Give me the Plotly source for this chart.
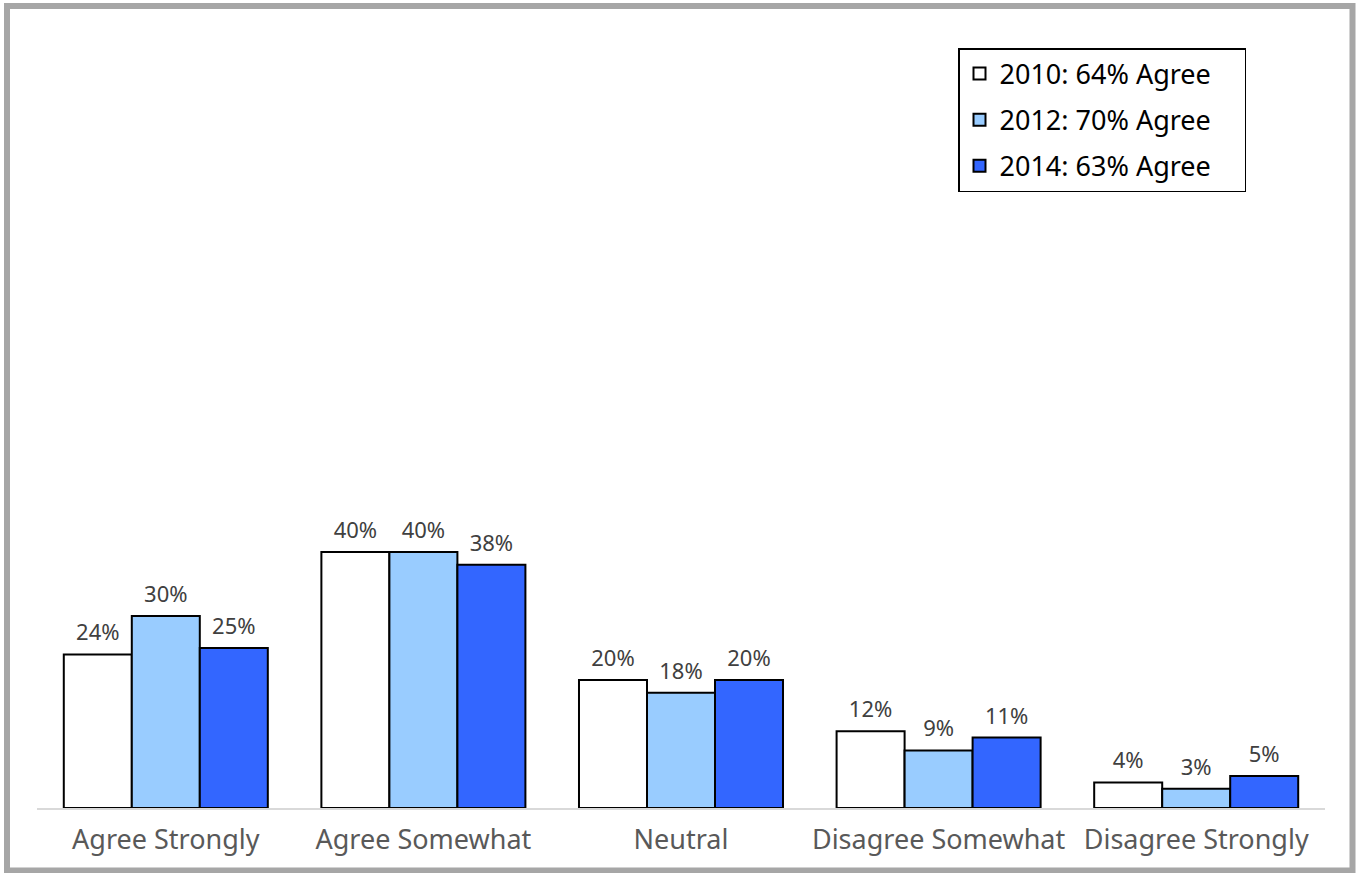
import plotly.graph_objects as go

# Survey responses by wave (percent of respondents)
categories = ["Agree Strongly", "Agree Somewhat", "Neutral", "Disagree Somewhat", "Disagree Strongly"]
series_names = ["2010: 64% Agree", "2012: 70% Agree", "2014: 63% Agree"]
values_2010 = [24, 40, 20, 12, 4]
values_2012 = [30, 40, 18, 9, 3]
values_2014 = [25, 38, 20, 11, 5]

colors = ["#ffffff", "#99ccff", "#3366ff"]
FONT = "Noto Sans"
PAD = "\u00a0" * 4  # right-hand padding inside the legend box

W, H = 1356, 873
L, R, T, B = 37, 31, 40, 65
plot_w = W - L - R
plot_h = H - T - B

fig = go.Figure()

all_values = [values_2010, values_2012, values_2014]
for i, (name, vals, col) in enumerate(zip(series_names, all_values, colors)):
    fig.add_trace(go.Bar(
        x=categories, y=vals, name=name + PAD,
        marker=dict(color=col, line=dict(color="#000000", width=2)),
        offsetgroup=str(i), legendgroup=str(i),
        hoverinfo="skip",
    ))

# value labels sit above each bar, aligned via shared offset groups
for i, vals in enumerate(all_values):
    fig.add_trace(go.Scatter(
        x=categories, y=vals, mode="markers+text",
        text=[f"{v}%" for v in vals], textposition="top center",
        textfont=dict(family=FONT, size=22, color="#404040"),
        marker=dict(size=12, opacity=0),
        offsetgroup=str(i), showlegend=False, hoverinfo="skip",
        cliponaxis=False,
    ))

# outer frame around the whole chart
fig.add_shape(
    type="rect", xref="paper", yref="paper",
    x0=(7 - L) / plot_w, x1=(1352.5 - L) / plot_w,
    y0=(H - B - 870.5) / plot_h, y1=(H - B - 6) / plot_h,
    line=dict(color="#a6a6a6", width=6), fillcolor="rgba(0,0,0,0)", layer="below",
)

fig.update_layout(
    width=W, height=H,
    margin=dict(l=L, r=R, t=T, b=B),
    paper_bgcolor="#ffffff", plot_bgcolor="#ffffff",
    barmode="group", bargap=0.208, bargroupgap=0,
    scattermode="group", scattergap=0.208,
    font=dict(family=FONT, color="#404040"),
    showlegend=True,
    legend=dict(
        x=(1246 - L) / plot_w, xanchor="right",
        y=(H - B - 48) / plot_h, yanchor="top",
        bgcolor="#ffffff", bordercolor="#000000", borderwidth=1.5,
        font=dict(family=FONT, size=27, color="#000000"),
        tracegroupgap=8,
    ),
    xaxis=dict(
        showline=True, linecolor="#d9d9d9", linewidth=2,
        ticks="", showgrid=False, zeroline=False,
        tickfont=dict(family=FONT, size=27, color="#595959"),
        ticklabelstandoff=7,
        fixedrange=True,
    ),
    yaxis=dict(
        range=[0, 120], visible=False, showgrid=False, zeroline=False,
        fixedrange=True,
    ),
)

fig.write_html("out.html")
